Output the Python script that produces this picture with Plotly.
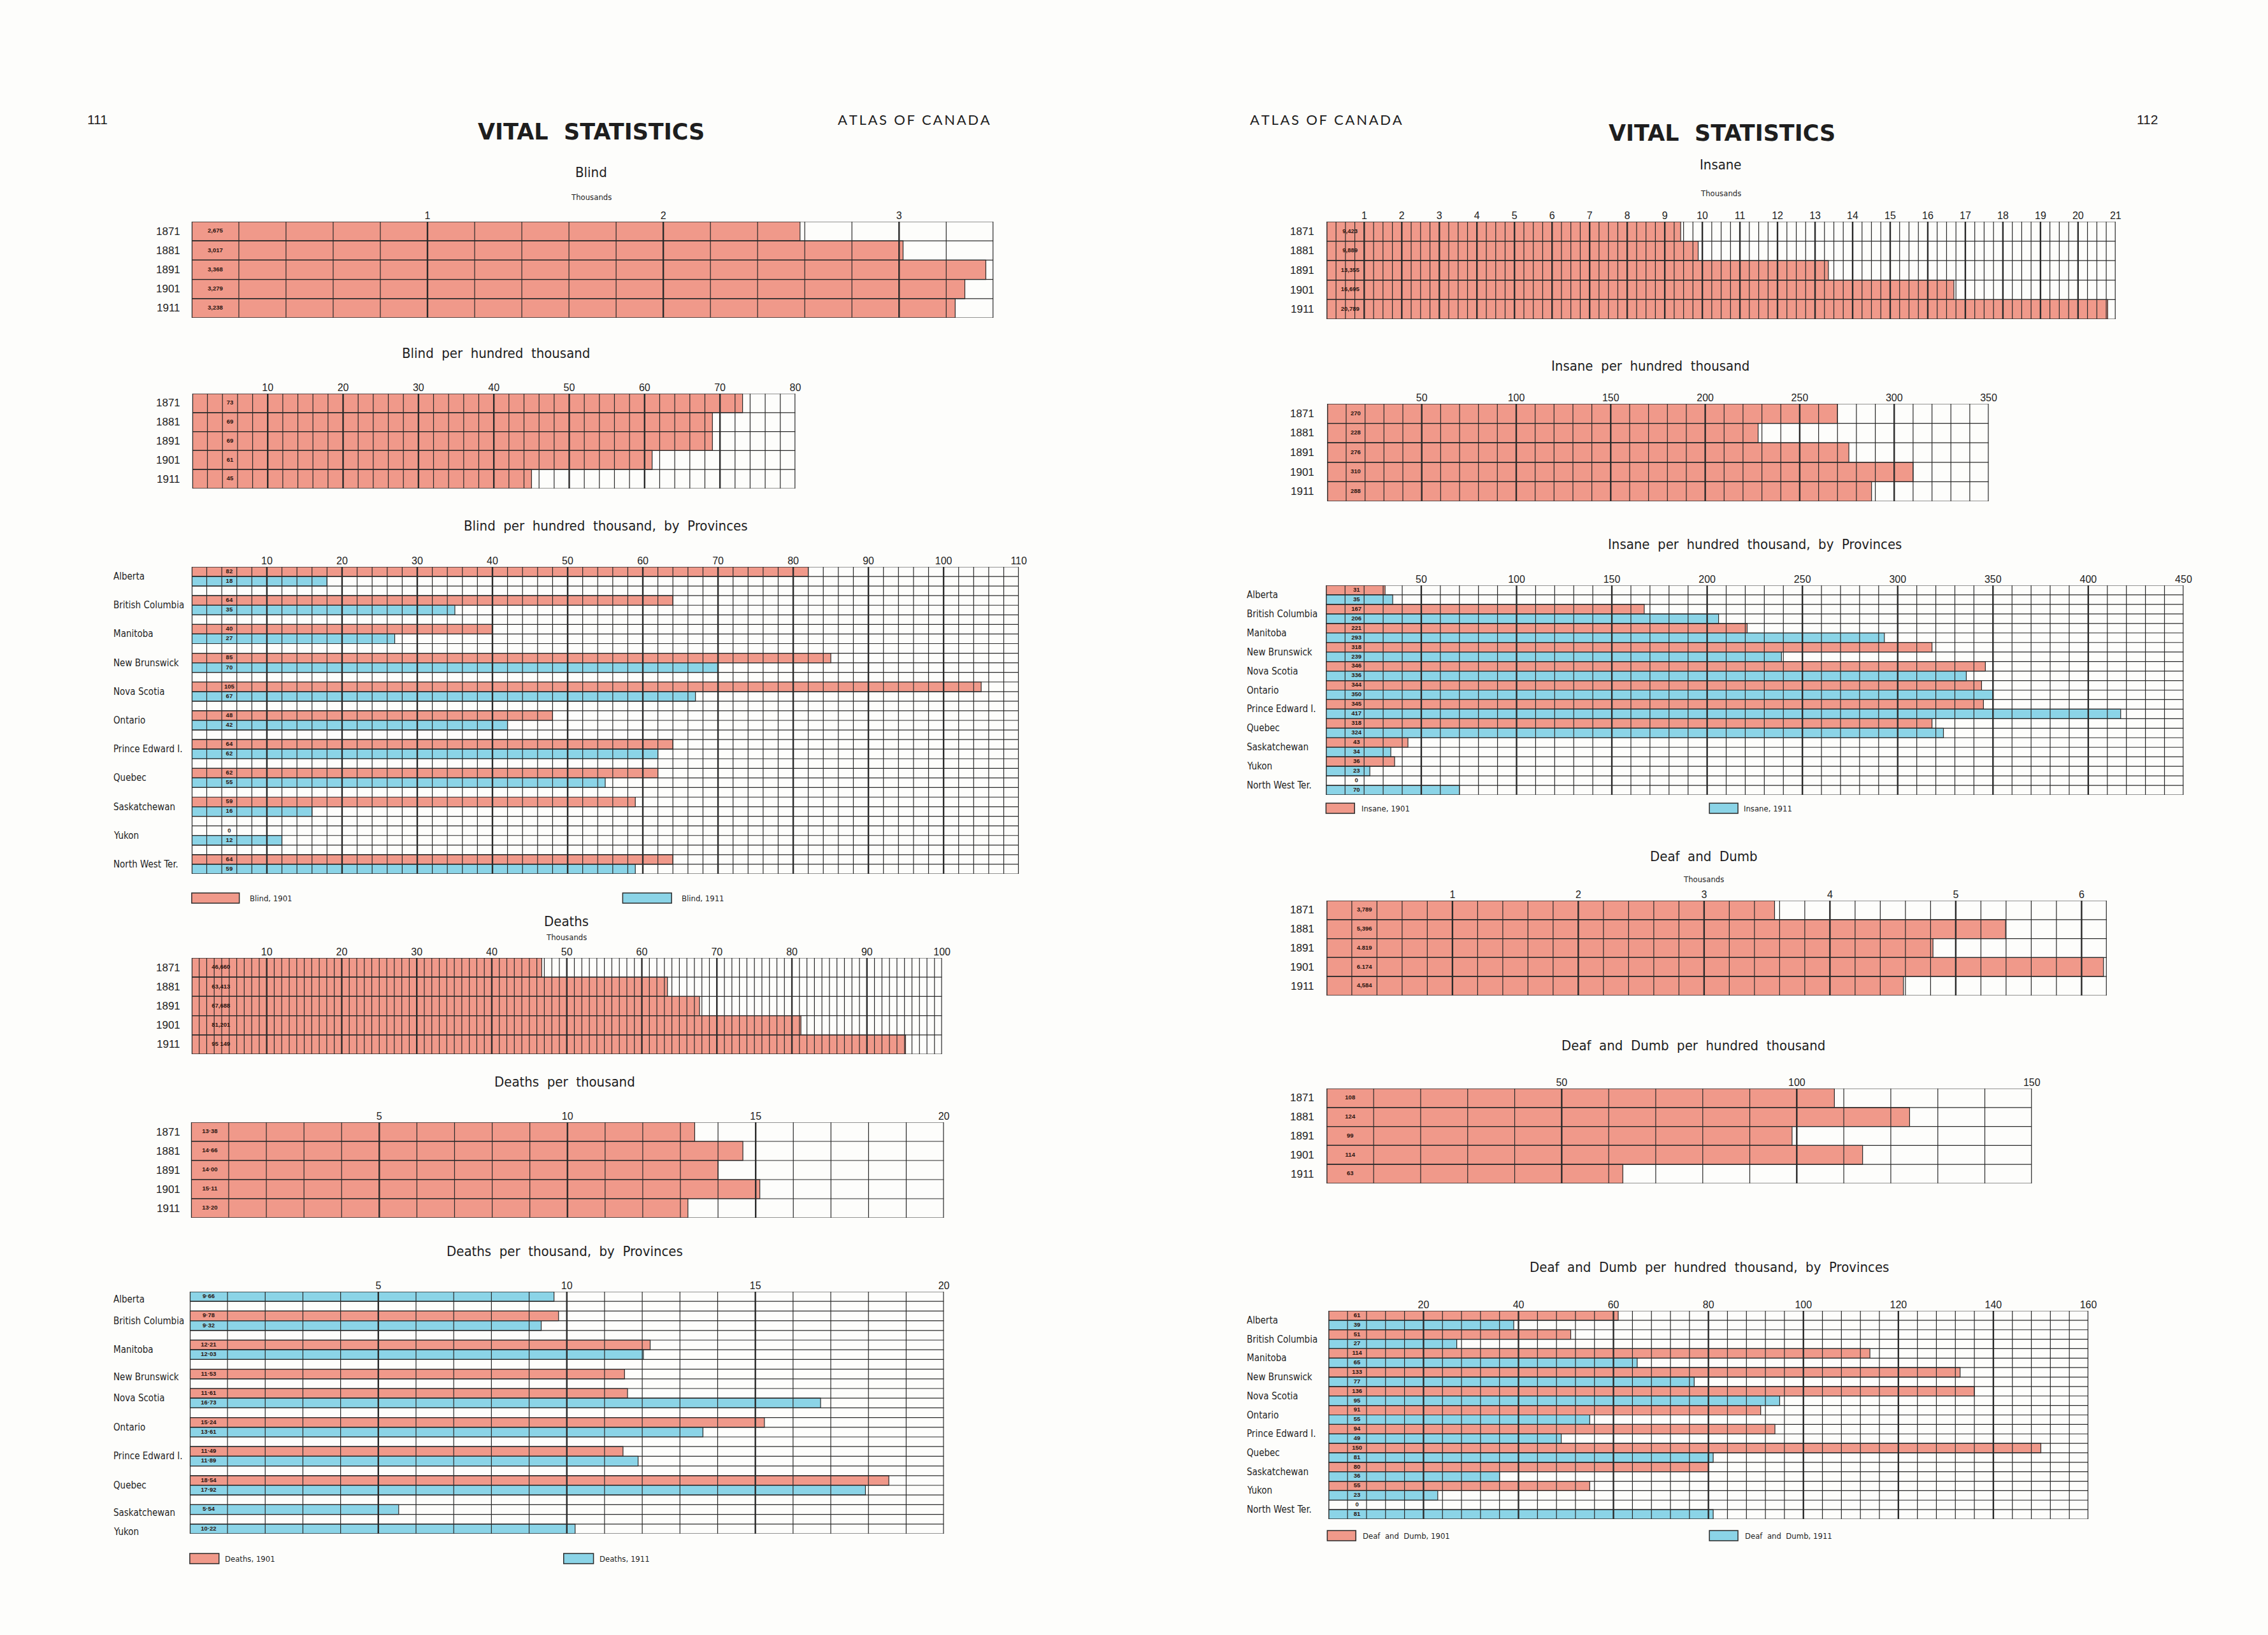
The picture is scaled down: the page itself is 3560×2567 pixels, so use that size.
import plotly.graph_objects as go

W, H = 3560, 2567
RED = "#F0998A"
BLUE = "#8BD4E7"
GRID = "#2a2a2a"
TXT = "#1e1e1e"
NARROW = "Liberation Sans Narrow, DejaVu Sans Condensed, Arial Narrow, sans-serif"
SANS = "Liberation Sans, Arial, sans-serif"

# ---------------- data ----------------
years = ["1871", "1881", "1891", "1901", "1911"]
provinces = ["Alberta", "British Columbia", "Manitoba", "New Brunswick", "Nova Scotia",
             "Ontario", "Prince Edward I.", "Quebec", "Saskatchewan", "Yukon", "North West Ter."]

blind_values = [2.58, 3.017, 3.368, 3.279, 3.238]          # thousands (bar lengths)
blind_labels = ["2,675", "3,017", "3,368", "3,279", "3,238"]
blind_per_100k = [73, 69, 69, 61, 45]
blind_prov_1901 = [82, 64, 40, 85, 105, 48, 64, 62, 59, 0, 64]
blind_prov_1911 = [18, 35, 27, 70, 67, 42, 62, 55, 16, 12, 59]

deaths_values = [46.66, 63.413, 67.688, 81.201, 95.149]     # thousands
deaths_labels = ["46,660", "63,413", "67,688", "81,201", "95 149"]
deaths_per_1000 = [13.38, 14.66, 14.00, 15.11, 13.20]
deaths_prov_names = provinces[:10]
deaths_prov_1901 = [None, 9.78, 12.21, 11.53, 11.61, 15.24, 11.49, 18.54, None, None]
deaths_prov_1911 = [9.66, 9.32, 12.03, None, 16.73, 13.61, 11.89, 17.92, 5.54, 10.22]

insane_values = [9.423, 9.889, 13.355, 16.695, 20.789]      # thousands
insane_labels = ["9,423", "9,889", "13,355", "16,695", "20,789"]
insane_per_100k = [270, 228, 276, 310, 288]
insane_prov_1901 = [31, 167, 221, 318, 346, 344, 345, 318, 43, 36, 0]
insane_prov_1911 = [35, 206, 293, 239, 336, 350, 417, 324, 34, 23, 70]

deaf_values = [3.56, 5.396, 4.819, 6.174, 4.584]            # thousands
deaf_labels = ["3,789", "5,396", "4.819", "6.174", "4,584"]
deaf_per_100k = [108, 124, 99, 114, 63]
deaf_prov_1901 = [61, 51, 114, 133, 136, 91, 94, 150, 80, 55, 0]
deaf_prov_1911 = [39, 27, 65, 77, 95, 55, 49, 81, 36, 23, 81]

fig = go.Figure()
annotations = []
shapes = []


def dec(v):
    return f"{v:.2f}".replace(".", "·")


def fmt_tick(t):
    return str(int(t)) if abs(t - round(t)) < 1e-9 else str(t)


def year_rows(values, labels):
    return [(v, RED, l) for v, l in zip(values, labels)], [(i, y, 0) for i, y in enumerate(years)]


def prov_rows(names, v1, v2, lab, blank):
    rows, nm = [], []
    for i, p in enumerate(names):
        idx = []
        for v, c in ((v1[i], RED), (v2[i], BLUE)):
            if v is not None:
                idx.append(len(rows))
                rows.append((v, c, lab(v)))
        off = 0.3 if len(idx) == 1 else 0
        nm.append((sum(idx) / len(idx) + off, p, 1))
        if blank and i < len(names) - 1:
            rows.append(None)
    return rows, nm


def chart(n, box, xmax, minor, major, ticks, rows, names, name_x, label_x,
          title, title_x, title_y, subtitle=None, sub_y=None):
    x0, x1, y0, y1 = box
    xs = "" if n == 1 else str(n)
    xa, ya = "x" + xs, "y" + xs
    nr = len(rows)
    fig.update_layout(**{
        "xaxis" + xs: dict(domain=[x0 / W, x1 / W], range=[0, xmax], anchor=ya, side="top",
                           tickmode="array", tickvals=ticks, ticktext=[fmt_tick(t) for t in ticks],
                           showgrid=False, zeroline=False, showline=False, ticks="",
                           tickfont=dict(family=SANS, size=16, color=TXT), fixedrange=True),
        "yaxis" + xs: dict(domain=[1 - y1 / H, 1 - y0 / H], range=[nr - 0.5, -0.5], anchor=xa,
                           visible=False, fixedrange=True),
    })
    for color in (RED, BLUE):
        ys = [i for i, r in enumerate(rows) if r is not None and r[1] == color]
        if not ys:
            continue
        fig.add_trace(go.Bar(x=[rows[i][0] for i in ys], y=ys, orientation="h", width=1,
                             marker=dict(color=color, line=dict(color=GRID, width=1.2)),
                             xaxis=xa, yaxis=ya, showlegend=False, hoverinfo="skip"))
    # grid drawn on top of bars
    nmin = int(round(xmax / minor))
    mn_x, mn_y, mj_x, mj_y = [], [], [], []
    for k in range(nmin + 1):
        v = k * minor
        is_major = abs(v / major - round(v / major)) < 1e-6 or k == 0 or k == nmin
        tx, ty = (mj_x, mj_y) if is_major else (mn_x, mn_y)
        tx += [v, v, None]
        ty += [-0.5, nr - 0.5, None]
    for r in range(nr + 1):
        mn_x += [0, xmax, None]
        mn_y += [r - 0.5, r - 0.5, None]
    fig.add_trace(go.Scatter(x=mn_x, y=mn_y, mode="lines", line=dict(color=GRID, width=1.2),
                             xaxis=xa, yaxis=ya, showlegend=False, hoverinfo="skip"))
    fig.add_trace(go.Scatter(x=mj_x, y=mj_y, mode="lines", line=dict(color=GRID, width=2.4),
                             xaxis=xa, yaxis=ya, showlegend=False, hoverinfo="skip"))
    ty_ = [i for i, r in enumerate(rows) if r is not None]
    fig.add_trace(go.Scatter(x=[label_x] * len(ty_), y=ty_, mode="text",
                             text=["<b>" + rows[i][2] + "</b>" for i in ty_],
                             textfont=dict(family=SANS, size=9.5, color="#2a1510"),
                             xaxis=xa, yaxis=ya, showlegend=False, hoverinfo="skip"))
    for pos, txt, kind in names:
        if kind == 0:
            annotations.append(dict(x=name_x / W, xref="paper", y=pos, yref=ya, text=txt,
                                    showarrow=False, xanchor="right", yanchor="middle",
                                    font=dict(family=SANS, size=17, color=TXT)))
        else:
            annotations.append(dict(x=name_x / W, xref="paper", y=pos, yref=ya, text=txt,
                                    showarrow=False, xanchor="left", yanchor="middle",
                                    font=dict(family=NARROW, size=15, color=TXT)))
    annotations.append(dict(x=title_x / W, y=1 - title_y / H, xref="paper", yref="paper",
                            text=title, showarrow=False, xanchor="center", yanchor="middle",
                            font=dict(family=NARROW, size=22, color=TXT)))
    if subtitle:
        annotations.append(dict(x=title_x / W, y=1 - sub_y / H, xref="paper", yref="paper",
                                text=subtitle, showarrow=False, xanchor="center", yanchor="middle",
                                font=dict(family=NARROW, size=13, color=TXT)))


def legend(y, items):
    for (sx0, sx1, tx, color, label) in items:
        shapes.append(dict(type="rect", xref="paper", yref="paper", x0=sx0 / W, x1=sx1 / W,
                           y0=1 - (y + 8) / H, y1=1 - (y - 8) / H, fillcolor=color,
                           line=dict(color=GRID, width=1.5)))
        annotations.append(dict(x=tx / W, y=1 - y / H, xref="paper", yref="paper", text=label,
                                showarrow=False, xanchor="left", yanchor="middle",
                                font=dict(family=NARROW, size=13, color=TXT)))


# ---------------- left page ----------------
r, nm = year_rows(blind_values, blind_labels)
chart(1, (302, 1565, 348, 499), 3.4, 0.2, 1, [1, 2, 3], r, nm, 286, 0.1,
      "Blind", 931, 270, "Thousands", 309)

r, nm = year_rows(blind_per_100k, [str(v) for v in blind_per_100k])
chart(2, (303, 1253, 618, 767), 80, 2, 10, list(range(10, 81, 10)), r, nm, 286, 5,
      "Blind  per  hundred  thousand", 781, 554)

r, nm = prov_rows(provinces, blind_prov_1901, blind_prov_1911, str, True)
chart(3, (302, 1605, 890, 1372), 110, 2, 10, list(range(10, 111, 10)), r, nm, 177, 5,
      "Blind  per  hundred  thousand,  by  Provinces", 954, 826)
legend(1410, [(302, 377, 391, RED, "Blind, 1901"), (981, 1058, 1072, BLUE, "Blind, 1911")])

r, nm = year_rows(deaths_values, deaths_labels)
chart(4, (302, 1484, 1504, 1655), 100, 1, 10, list(range(10, 101, 10)), r, nm, 286, 3.9,
      "Deaths", 892, 1446, "Thousands", 1471)

r, nm = year_rows(deaths_per_1000, [dec(v) for v in deaths_per_1000])
chart(5, (301, 1487, 1762, 1912), 20, 1, 5, [5, 10, 15, 20], r, nm, 286, 0.5,
      "Deaths  per  thousand", 890, 1698)

r, nm = prov_rows(deaths_prov_names, deaths_prov_1901, deaths_prov_1911, dec, True)
chart(6, (299, 1487, 2028, 2408), 20, 1, 5, [5, 10, 15, 20], r, nm, 177, 0.5,
      "Deaths  per  thousand,  by  Provinces", 890, 1964)
legend(2447, [(299, 345, 352, RED, "Deaths, 1901"), (888, 935, 942, BLUE, "Deaths, 1911")])

# ---------------- right page ----------------
r, nm = year_rows(insane_values, insane_labels)
chart(7, (2090, 3333, 348, 501), 21, 0.25, 1, list(range(1, 22)), r, nm, 2073, 0.625,
      "Insane", 2711, 259, "Thousands", 304)

r, nm = year_rows(insane_per_100k, [str(v) for v in insane_per_100k])
chart(8, (2091, 3133, 634, 787), 350, 10, 50, list(range(50, 351, 50)), r, nm, 2073, 15,
      "Insane  per  hundred  thousand", 2600, 574)

r, nm = prov_rows(provinces, insane_prov_1901, insane_prov_1911, str, False)
chart(9, (2089, 3440, 919, 1248), 450, 10, 50, list(range(50, 451, 50)), r, nm, 1962, 16,
      "Insane  per  hundred  thousand,  by  Provinces", 2765, 854)
legend(1269, [(2089, 2134, 2143, RED, "Insane, 1901"), (2693, 2738, 2745, BLUE, "Insane, 1911")])

r, nm = year_rows(deaf_values, deaf_labels)
chart(10, (2090, 3319, 1414, 1563), 6.2, 0.2, 1, [1, 2, 3, 4, 5, 6], r, nm, 2073, 0.3,
      "Deaf  and  Dumb", 2684, 1344, "Thousands", 1380)

r, nm = year_rows(deaf_per_100k, [str(v) for v in deaf_per_100k])
chart(11, (2090, 3201, 1709, 1858), 150, 10, 50, [50, 100, 150], r, nm, 2073, 5,
      "Deaf  and  Dumb  per  hundred  thousand", 2668, 1641)

r, nm = prov_rows(provinces, deaf_prov_1901, deaf_prov_1911, str, False)
chart(12, (2093, 3290, 2058, 2385), 160, 4, 20, list(range(20, 161, 20)), r, nm, 1962, 6,
      "Deaf  and  Dumb  per  hundred  thousand,  by  Provinces", 2693, 1989)
legend(2411, [(2091, 2136, 2145, RED, "Deaf  and  Dumb, 1901"),
              (2693, 2738, 2747, BLUE, "Deaf  and  Dumb, 1911")])


# ---------------- page headers ----------------
def head(x, y, text, family, size, anchor="center"):
    annotations.append(dict(x=x / W, y=1 - y / H, xref="paper", yref="paper", text=text,
                            showarrow=False, xanchor=anchor, yanchor="middle",
                            font=dict(family=family, size=size, color=TXT)))


def spaced(s):
    return "\u2009".join(s)


head(154, 188, "111", "Liberation Sans Narrow, sans-serif", 21)
head(931, 207, "<b>VITAL  STATISTICS</b>", "DejaVu Sans, sans-serif", 35)
head(1440, 188, spaced("ATLAS OF CANADA"), "Lato, Open Sans, sans-serif", 22)
head(2089, 188, spaced("ATLAS OF CANADA"), "Lato, Open Sans, sans-serif", 22)
head(2713, 209, "<b>VITAL  STATISTICS</b>", "DejaVu Sans, sans-serif", 35)
head(3383, 188, "112", "Liberation Sans Narrow, sans-serif", 21)

fig.update_layout(width=W, height=H, margin=dict(l=0, r=0, t=0, b=0),
                  paper_bgcolor="#FDFDFB", plot_bgcolor="rgba(0,0,0,0)",
                  barmode="overlay", showlegend=False,
                  annotations=annotations, shapes=shapes)

fig.write_html("out.html", config={"displayModeBar": False},
               post_script=("document.body.style.margin='0';"
                            "document.body.style.overflow='hidden';"
                            "document.documentElement.style.overflow='hidden';"))
